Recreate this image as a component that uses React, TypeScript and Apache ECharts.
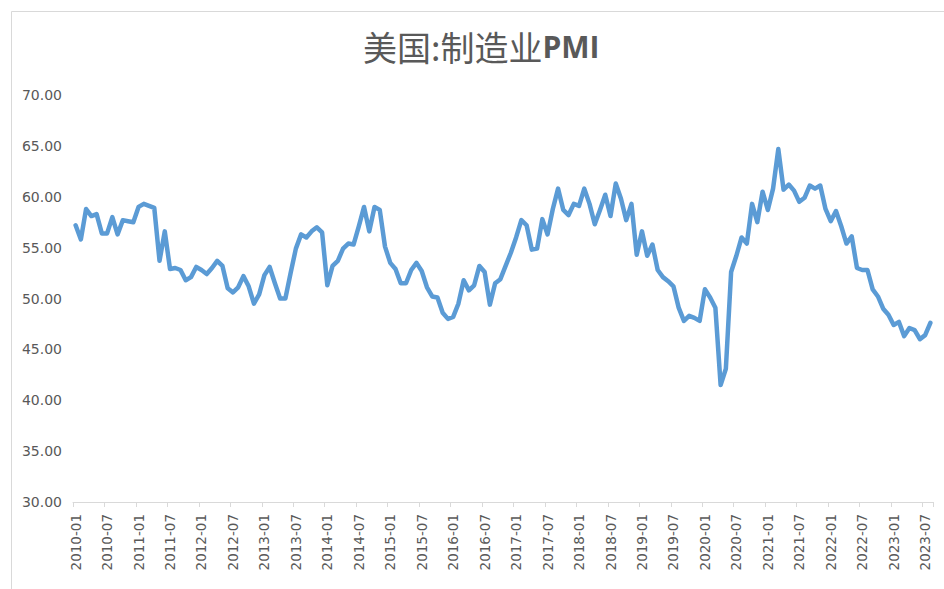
import React, { useEffect, useRef } from "react";
import * as echarts from "echarts";

const TITLE_CN = "美国:制造业";
const TITLE_EN = "PMI";

const START_YEAR = 2010;
const END_YEAR = 2023;
const END_MONTH = 8;

const pmi2010 = [57.2, 55.8, 58.8, 58.1, 58.3, 56.4, 56.4, 58.0, 56.3, 57.7, 57.6, 57.5];
const pmi2011 = [59.0, 59.3, 59.1, 58.9, 53.7, 56.6, 52.9, 53.0, 52.8, 51.8, 52.1, 53.1];
const pmi2012 = [52.8, 52.4, 53.0, 53.7, 53.2, 51.0, 50.6, 51.1, 52.2, 51.2, 49.5, 50.4];
const pmi2013 = [52.3, 53.1, 51.5, 50.0, 50.0, 52.5, 54.9, 56.3, 56.0, 56.6, 57.0, 56.5];
const pmi2014 = [51.3, 53.2, 53.7, 54.9, 55.4, 55.3, 57.1, 59.0, 56.6, 59.0, 58.7, 55.1];
const pmi2015 = [53.5, 52.9, 51.5, 51.5, 52.8, 53.5, 52.7, 51.1, 50.2, 50.1, 48.6, 48.0];
const pmi2016 = [48.2, 49.5, 51.8, 50.8, 51.3, 53.2, 52.6, 49.4, 51.5, 51.9, 53.2, 54.5];
const pmi2017 = [56.0, 57.7, 57.2, 54.8, 54.9, 57.8, 56.3, 58.8, 60.8, 58.7, 58.2, 59.3];
const pmi2018 = [59.1, 60.8, 59.3, 57.3, 58.7, 60.2, 58.1, 61.3, 59.8, 57.7, 59.3, 54.3];
const pmi2019 = [56.6, 54.2, 55.3, 52.8, 52.1, 51.7, 51.2, 49.1, 47.8, 48.3, 48.1, 47.8];
const pmi2020 = [50.9, 50.1, 49.1, 41.5, 43.1, 52.6, 54.2, 56.0, 55.4, 59.3, 57.5, 60.5];
const pmi2021 = [58.7, 60.8, 64.7, 60.7, 61.2, 60.6, 59.5, 59.9, 61.1, 60.8, 61.1, 58.8];
const pmi2022 = [57.6, 58.6, 57.1, 55.4, 56.1, 53.0, 52.8, 52.8, 50.9, 50.2, 49.0, 48.4];
const pmi2023 = [47.4, 47.7, 46.3, 47.1, 46.9, 46.0, 46.4, 47.6];

const values = [
  ...pmi2010, ...pmi2011, ...pmi2012, ...pmi2013, ...pmi2014, ...pmi2015, ...pmi2016,
  ...pmi2017, ...pmi2018, ...pmi2019, ...pmi2020, ...pmi2021, ...pmi2022, ...pmi2023,
];

const categories: string[] = [];
for (let y = START_YEAR; y <= END_YEAR; y++) {
  const last = y === END_YEAR ? END_MONTH : 12;
  for (let m = 1; m <= last; m++) categories.push(`${y}-${m < 10 ? "0" + m : m}`);
}

const Y_MIN = 30;
const Y_MAX = 70;
const Y_STEP = 5;
const LABEL_EVERY = 6;

export default function App() {
  const ref = useRef<HTMLDivElement>(null);
  useEffect(() => {
    if (!ref.current) return;
    const chart = echarts.init(ref.current, null, { renderer: "svg" });
    const textColor = "#595959";
    const font = "DejaVu Sans";
    chart.setOption({
      animation: false,
      backgroundColor: "#ffffff",
      title: {
        text: `{a|${TITLE_CN}}{b|${TITLE_EN}}`,
        left: 358,
        top: 24,
        textStyle: {
          rich: {
            a: {
              fontFamily: "Noto Sans CJK SC",
              fontSize: 34,
              fontWeight: "normal",
              color: textColor,
            },
            b: {
              fontFamily: "Open Sans",
              fontSize: 30,
              fontWeight: "bold",
              color: textColor,
            },
          },
        },
      },
      graphic: [
        {
          type: "rect",
          shape: { x: 11.5, y: 11.5, width: 1000, height: 1000 },
          style: { fill: "none", stroke: "#d9d9d9", lineWidth: 1 },
          silent: true,
        },
      ],
      grid: { left: 73, right: 11, top: 95, bottom: 87, containLabel: false },
      xAxis: {
        type: "category",
        data: categories,
        boundaryGap: true,
        axisLine: { lineStyle: { color: "#d9d9d9", width: 1 } },
        axisTick: {
          show: true,
          interval: (i: number) => i % LABEL_EVERY === 0,
          length: 5,
          lineStyle: { color: "#d9d9d9" },
        },
        axisLabel: {
          interval: (i: number) => i % LABEL_EVERY === 0,
          rotate: 90,
          margin: 12,
          color: textColor,
          fontSize: 13.5,
          fontFamily: font,
        },
        splitLine: { show: false },
      },
      yAxis: {
        type: "value",
        min: Y_MIN,
        max: Y_MAX,
        interval: Y_STEP,
        axisLine: { show: false },
        axisTick: { show: false },
        splitLine: { show: false },
        axisLabel: {
          formatter: (v: number) => v.toFixed(2),
          color: textColor,
          fontSize: 14,
          fontFamily: font,
          margin: 11,
        },
      },
      series: [
        {
          type: "line",
          data: values,
          symbol: "none",
          lineStyle: { color: "#5b9bd5", width: 4.5, join: "round", cap: "round" },
          itemStyle: { color: "#5b9bd5" },
        },
      ],
    });
    return () => chart.dispose();
  }, []);
  return (
    <div
      ref={ref}
      style={{ position: "absolute", left: 0, top: 0, width: 944, height: 589 }}
    />
  );
}
